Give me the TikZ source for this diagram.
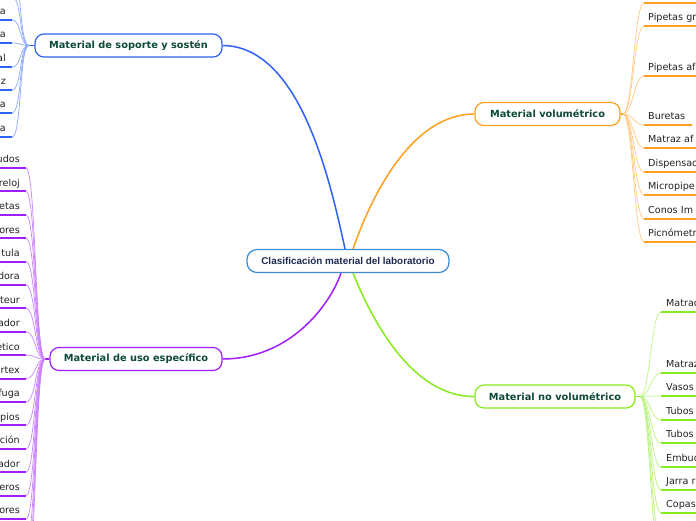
\documentclass[tikz,border=0pt]{standalone}
\usepackage{fontspec}
\setmainfont{DejaVu Sans}
\newfontfamily\ctrfont{Liberation Sans}
\definecolor{cblue}{HTML}{2F62F5}
\definecolor{corange}{HTML}{FFA020}
\definecolor{cpurple}{HTML}{A01EFA}
\definecolor{cgreen}{HTML}{86EA1E}
\definecolor{cctr}{HTML}{3A8BD6}
\definecolor{ctext}{HTML}{0D4A3A}
\definecolor{cctrtext}{HTML}{1E2A50}
\definecolor{cleaf}{HTML}{222222}
\begin{document}
\begin{tikzpicture}[x=1pt,y=-1pt,
  branch/.style={draw, rounded corners=9pt, line width=1.2pt, fill=white, text=ctext,
    font=\fontsize{9.8}{11}\selectfont\bfseries, minimum height=23pt, inner sep=0pt},
  center/.style={draw=cctr, rounded corners=10pt, line width=1.2pt, fill=white, text=cctrtext,
    font=\ctrfont\fontsize{9.9}{11}\selectfont\bfseries, minimum height=23pt, minimum width=202pt, inner sep=0pt},
  leafL/.style={anchor=south east, inner xsep=6pt, inner ysep=3pt, text width=50pt, align=right,
    font=\fontsize{9.6}{11}\selectfont, text=cleaf, text height=7pt, text depth=2pt},
  leafR/.style={anchor=south west, inner xsep=4pt, inner ysep=3pt, text width=60pt, align=left,
    font=\fontsize{9.6}{11}\selectfont, text=cleaf, text height=7pt, text depth=2pt},
  ul/.style={line width=2pt, #1},
  lk/.style={line width=0.7pt, #1!55},
  mainlink/.style={line width=1.5pt, #1},
  stub/.style={line width=1.5pt, #1}
]
\fill[white] (0,0) rectangle (696,520);
\useasboundingbox (0,0) rectangle (696,520);

% ---------- central and branch nodes ----------
\node[center] (c) at (348,261) {Clasificación material del laboratorio};
\node[branch, draw=cblue, minimum width=187pt] (nb) at (128.5,45.5) {Material de soporte y sostén};
\node[branch, draw=corange, minimum width=145pt] (no) at (547.5,114) {Material volumétrico};
\node[branch, draw=cpurple, minimum width=172pt] (np) at (136,359) {Material de uso específico};
\node[branch, draw=cgreen, minimum width=160pt] (ng) at (555,396.5) {Material no volumétrico};

\draw[mainlink=cblue] ([xshift=-3pt]c.north) .. controls (330,180) and (300,46) .. (nb.east);
\draw[mainlink=corange] ([xshift=5pt]c.north) .. controls (370,200) and (410,114) .. (no.west);
\draw[mainlink=cpurple] ([xshift=-7pt]c.south) .. controls (330,305) and (290,359) .. (np.east);
\draw[mainlink=cgreen] ([xshift=5pt]c.south) .. controls (370,315) and (410,397) .. (ng.west);

% ---------- junctions ----------
\coordinate (jb) at (29,45.5);
\coordinate (jo) at (623,114);
\coordinate (jp) at (45,359);
\coordinate (jg) at (640,396.5);
\draw[stub=cblue] (nb.west) -- (jb);
\draw[stub=corange] (no.east) -- (jo);
\draw[stub=cpurple] (np.west) -- (jp);
\draw[stub=cgreen] (ng.east) -- (jg);

% ---------- blue leaves ----------
\coordinate (bx1) at (12,-27);
\coordinate (bx2) at (12,-3);
\foreach \n/\y/\t in {b1/20/a, b2/43/a, b3/67/al, b4/90/z, b5/113/a, b6/137/a}{
  \node[leafL] (\n) at (12,\y) {\t};
  \draw[ul=cblue] (\n.south west) -- (\n.south east);
  \draw[lk=cblue] (jb) .. controls +(-10,0) and +(10,0) .. (\n.south east);
}
\foreach \n in {bx1,bx2}{
  \draw[lk=cblue] (jb) .. controls +(-10,0) and +(10,0) .. (\n);
}

% ---------- purple leaves ----------
\coordinate (px1) at (26,542.4);
\coordinate (px2) at (26,565.8);
\coordinate (px3) at (26,589.2);
\foreach \n/\y/\t in {p1/168/udos, p2/191.4/reloj, p3/214.8/etas, p4/238.2/ores, p5/261.6/tula,
  p6/285/dora, p7/308.4/teur, p8/331.8/ador, p9/355.2/etico, p10/378.6/rtex, p11/402/fuga,
  p12/425.4/pios, p13/448.8/ción, p14/472.2/ador, p15/495.6/eros, p16/519/ores}{
  \node[leafL] (\n) at (26,\y) {\t};
  \draw[ul=cpurple] (\n.south west) -- (\n.south east);
  \draw[lk=cpurple] (jp) .. controls +(-10,0) and +(10,0) .. (\n.south east);
}
\foreach \n in {px1,px2,px3}{
  \draw[lk=cpurple] (jp) .. controls +(-10,0) and +(10,0) .. (\n);
}

% ---------- orange leaves ----------
\node[leafR] (o0) at (644,3) {};
\node[leafR, text width=40pt] (o3) at (644,125) {Buretas};
\foreach \n/\y/\t in {o1/26/Pipetas gr, o2/76/Pipetas af, o4/148/Matraz af,
  o5/172/Dispensac, o6/195/Micropipe, o7/219/Conos Im, o8/242/Picnómetr}{
  \node[leafR] (\n) at (644,\y) {\t};
}
\foreach \n in {o0,o1,o2,o3,o4,o5,o6,o7,o8}{
  \draw[ul=corange] (\n.south west) -- (\n.south east);
  \draw[lk=corange] (jo) .. controls +(10,0) and +(-10,0) .. (\n.south west);
}

% ---------- green leaves ----------
\coordinate (gx1) at (661,537);
\coordinate (gx2) at (661,560);
\foreach \n/\y/\t in {g1/312/Matrac, g2/373/Matraz, g3/396/Vasos, g4/420/Tubos, g5/443/Tubos,
  g6/467/Embud, g7/490/Jarra r, g8/513/Copas}{
  \node[leafR, inner xsep=5pt] (\n) at (661,\y) {\t};
  \draw[ul=cgreen] (\n.south west) -- (\n.south east);
  \draw[lk=cgreen] (jg) .. controls +(10,0) and +(-10,0) .. (\n.south west);
}
\foreach \n in {gx1,gx2}{
  \draw[lk=cgreen] (jg) .. controls +(10,0) and +(-10,0) .. (\n);
}
\end{tikzpicture}
\end{document}
